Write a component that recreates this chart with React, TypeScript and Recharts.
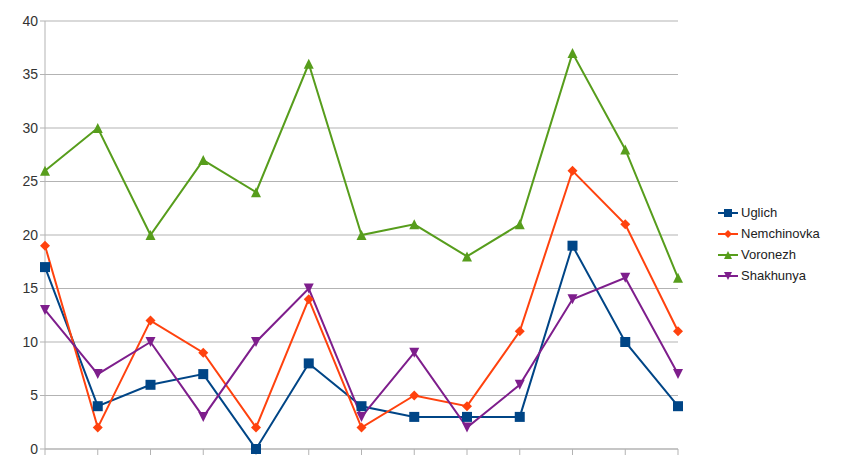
import React from "react";
import { LineChart, Line, XAxis, YAxis, CartesianGrid, Legend } from "recharts";

const categories = ["1", "2", "3", "4", "5", "6", "7", "8", "9", "10", "11", "12", "13"];
const uglich = [17, 4, 6, 7, 0, 8, 4, 3, 3, 3, 19, 10, 4];
const nemchinovka = [19, 2, 12, 9, 2, 14, 2, 5, 4, 11, 26, 21, 11];
const voronezh = [26, 30, 20, 27, 24, 36, 20, 21, 18, 21, 37, 28, 16];
const shakhunya = [13, 7, 10, 3, 10, 15, 3, 9, 2, 6, 14, 16, 7];
const yTicks = [0, 5, 10, 15, 20, 25, 30, 35, 40];

const series = [
  { key: "Uglich", color: "#004586", shape: "square" },
  { key: "Nemchinovka", color: "#ff420e", shape: "diamond" },
  { key: "Voronezh", color: "#579d1c", shape: "up" },
  { key: "Shakhunya", color: "#7e1e8c", shape: "down" },
];

const data = categories.map((c, i) => ({
  name: c,
  Uglich: uglich[i],
  Nemchinovka: nemchinovka[i],
  Voronezh: voronezh[i],
  Shakhunya: shakhunya[i],
}));

function Marker({ cx, cy, shape, color, r = 5 }: any) {
  if (cx == null || cy == null) return null;
  if (shape === "square")
    return <rect x={cx - r} y={cy - r} width={r * 2} height={r * 2} fill={color} />;
  if (shape === "diamond")
    return <polygon points={`${cx},${cy - r} ${cx + r},${cy} ${cx},${cy + r} ${cx - r},${cy}`} fill={color} />;
  if (shape === "up")
    return <polygon points={`${cx},${cy - r} ${cx + r},${cy + r} ${cx - r},${cy + r}`} fill={color} />;
  return <polygon points={`${cx - r},${cy - r} ${cx + r},${cy - r} ${cx},${cy + r}`} fill={color} />;
}

const LegendBox = () => (
  <div style={{ fontFamily: "Liberation Sans, Arial, sans-serif", fontSize: 13, color: "#222" }}>
    {series.map((s) => (
      <div key={s.key} style={{ display: "flex", alignItems: "center", height: 21 }}>
        <svg width={20} height={12} style={{ marginRight: 3 }}>
          <line x1={0} y1={6} x2={20} y2={6} stroke={s.color} strokeWidth={2} />
          <Marker cx={10} cy={6} shape={s.shape} color={s.color} r={4} />
        </svg>
        {s.key}
      </div>
    ))}
  </div>
);

export default function App() {
  return (
    <div style={{ position: "fixed", left: 0, top: 0, background: "#fff" }}>
      {/* legend is 140 wide and recharts adds it to the right offset */}
      <LineChart width={859} height={457} data={data} margin={{ top: 21, right: 41, left: 0, bottom: 0 }}>
        <CartesianGrid vertical={false} stroke="#b3b3b3" />
        <XAxis
          dataKey="name"
          height={8}
          axisLine={{ stroke: "#b3b3b3" }}
          tickLine={{ stroke: "#b3b3b3" }}
          tickSize={6}
          tick={() => <g />}
          interval={0}
        />
        <YAxis
          domain={[0, 40]}
          ticks={yTicks}
          width={45}
          axisLine={{ stroke: "#b3b3b3" }}
          tickLine={{ stroke: "#b3b3b3" }}
          tickSize={5}
          tick={{ fill: "#333", fontSize: 14, fontFamily: "Liberation Sans, Arial, sans-serif" }}
          interval={0}
        />
        <YAxis yAxisId="r" orientation="right" width={0} tick={false} tickLine={false} axisLine={{ stroke: "#b3b3b3" }} />
        <Legend
          layout="vertical"
          align="right"
          verticalAlign="top"
          content={<LegendBox />}
          wrapperStyle={{ left: 718, top: 202, width: 140 }}
        />
        {series.map((s) => (
          <Line
            key={s.key}
            type="linear"
            dataKey={s.key}
            stroke={s.color}
            strokeWidth={2}
            isAnimationActive={false}
            dot={(p: any) => <Marker key={p.index} cx={p.cx} cy={p.cy} shape={s.shape} color={s.color} />}
            activeDot={false}
          />
        ))}
      </LineChart>
    </div>
  );
}
